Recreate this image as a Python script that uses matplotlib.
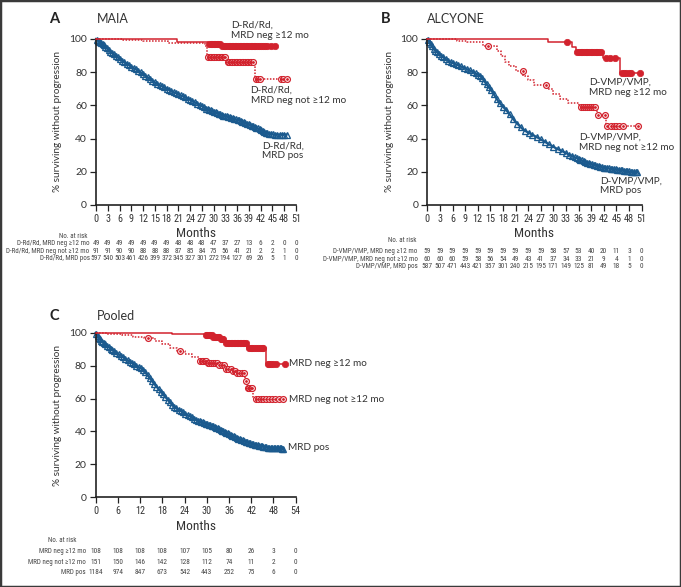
import numpy as np
import matplotlib
matplotlib.use('Agg')
import matplotlib.pyplot as plt
from matplotlib import transforms
from matplotlib.patches import Rectangle
from matplotlib import font_manager as fm
from matplotlib.font_manager import FontProperties

W, H = 681, 587
RED = '#d2222d'
BLUE = '#1b5a8e'
SANS = ['Lato', 'DejaVu Sans']

# ---- pick a condensed font for tick labels / risk table if one is installed ----
_cond_path = None
_prefs = ['LiberationSansNarrow-Regular', 'RobotoCondensed-Regular', 'DejaVuSansCondensed.ttf',
          'OpenSansCondensed', 'NotoSans-Condensed', 'Condensed-Regular', 'Narrow-Regular',
          'SemiCondensed-Regular']
_all = [f.fname for f in fm.fontManager.ttflist]
for p in _prefs:
    hits = [f for f in _all if p.lower() in f.lower()]
    if hits:
        _cond_path = hits[0]
        break
if _cond_path is None:
    hits = [f for f in _all if ('condensed' in f.lower() or 'narrow' in f.lower())
            and 'bold' not in f.lower() and 'italic' not in f.lower()
            and 'oblique' not in f.lower() and 'light' not in f.lower()]
    if hits:
        _cond_path = hits[0]
CONDENSED = _cond_path is not None


def nfp(size):
    if CONDENSED:
        return FontProperties(fname=_cond_path, size=size)
    return FontProperties(family='Roboto', size=size * 0.86)


# ---------------- Panel A: MAIA ----------------
a_neg12_t = [0, 20.6, 28.6, 32.0]
a_neg12_s = [100, 98, 97, 95.5]
a_neg12_end = 45.7
a_neg12_cens = [28.8, 29.2, 29.6, 30.0, 30.4, 30.8, 31.2, 31.6, 32.2, 32.6, 33.0, 33.4,
                33.8, 34.2, 34.6, 35.0, 35.4, 35.8, 36.2, 36.6, 37.0, 37.4, 37.8, 38.2,
                38.6, 39.0, 39.4, 39.8, 40.2, 40.6, 41.0, 41.5, 42.0, 42.5, 43.0, 43.5,
                44.6, 45.7]
a_not12_t = [0, 7, 12, 18.4, 27.8, 28.3, 33.3, 40.5]
a_not12_s = [100, 99.3, 98.5, 97.5, 96, 89, 86, 76]
a_not12_end = 48.6
a_not12_cens = [28.6, 29.0, 29.4, 29.8, 30.2, 30.6, 31.0, 31.4, 31.8, 32.2, 32.6, 33.0,
                33.6, 34.0, 34.4, 34.8, 35.2, 35.6, 36.0, 36.4, 36.8, 37.2, 37.6, 38.0,
                38.4, 38.8, 39.2, 39.6, 40.0, 40.8, 41.3, 41.9, 47.2, 47.8, 48.6]
a_pos_t = [0, 1.9, 3.6, 7.0, 11.2, 15.5, 19.7, 24.0, 28.2, 32.5, 36.7, 41.0, 43.5, 45.5, 48.6]
a_pos_s = [100, 96.4, 92.4, 86.3, 80.2, 73.1, 68.1, 63.5, 58.0, 53.9, 50.9, 46.5, 43.3, 42.4, 42.4]
a_pos_cens = [0.2, 0.5, 0.8, 1.1, 1.4, 1.7, 2.0, 2.4, 2.8, 3.2, 3.6, 4.0, 4.5, 5.0, 5.5,
              6.0, 6.6, 7.2, 7.8, 8.4, 9.0, 9.6, 10.2, 10.8, 11.4, 12.0, 12.6, 13.2, 13.8,
              14.4, 15.0, 15.6, 16.2, 16.8, 17.4, 18.0, 18.6, 19.2, 19.8, 20.4, 21.0, 21.6,
              22.2, 22.8, 23.4, 24.0, 24.6, 25.2, 25.8, 26.4, 27.0, 27.6, 28.1, 28.5, 28.9,
              29.3, 29.7, 30.1, 30.5, 30.9, 31.3, 31.7, 32.1, 32.5, 32.9, 33.3, 33.7, 34.1,
              34.5, 34.9, 35.3, 35.7, 36.1, 36.5, 36.9, 37.3, 37.7, 38.1, 38.5, 38.9, 39.3,
              39.7, 40.1, 40.5, 40.9, 41.3, 41.7, 42.1, 42.5, 42.9, 43.3, 43.7, 44.1, 44.6,
              45.1, 45.6, 46.2, 46.8, 47.4, 48.0, 48.6]
a_risk_times = list(range(0, 52, 3))
a_risk_labels = ['D-Rd/Rd, MRD neg ≥12 mo', 'D-Rd/Rd, MRD neg not ≥12 mo', 'D-Rd/Rd, MRD pos']
a_risk_neg12 = [49, 49, 49, 49, 49, 49, 49, 48, 48, 48, 47, 37, 27, 13, 6, 2, 0, 0]
a_risk_not12 = [91, 91, 90, 90, 88, 88, 88, 87, 85, 84, 75, 56, 41, 21, 2, 2, 1, 0]
a_risk_pos = [597, 540, 503, 461, 426, 399, 372, 345, 327, 301, 272, 194, 127, 69, 26, 5, 1, 0]

# ---------------- Panel B: ALCYONE ----------------
b_neg12_t = [0, 28.8, 34.5, 35.5, 41.8, 45.8]
b_neg12_s = [100, 98.4, 95, 92, 88.3, 79.3]
b_neg12_end = 50.6
b_neg12_cens = [33.3, 35.7, 36.1, 36.5, 36.9, 37.3, 37.7, 38.1, 38.5, 38.9, 39.3, 39.7,
                40.1, 40.5, 40.9, 41.3, 42.6, 43.5, 44.6, 46.4, 46.9, 47.4, 47.9, 48.4, 50.6]
b_not12_t = [0, 7, 9.4, 13.3, 16.5, 17.5, 18.5, 19.5, 21, 22.8, 24, 25.5, 28.5, 30, 31.5,
             33.5, 36.2, 40.5, 42.5]
b_not12_s = [100, 99, 98, 95.5, 93, 90, 86, 84, 81, 78, 75, 72, 69.7, 67, 64, 61.5, 59,
             54.4, 47.3]
b_not12_end = 50.2
b_not12_cens = [14.4, 22.7, 28.2, 36.5, 37.0, 37.5, 38.0, 38.5, 39.0, 39.5, 40.0, 40.6,
                42.2, 42.8, 43.6, 44.4, 45.0, 45.6, 46.6, 50.2]
b_pos_t = [0, 1.5, 3, 5.2, 8, 11, 12.8, 14, 15.5, 17, 19, 21, 23, 26, 30, 34, 38, 42, 46, 49.9]
b_pos_s = [100, 94, 90.5, 86.5, 83.5, 80, 77.5, 73, 68, 62, 56.5, 50, 45, 41, 35, 30, 25.5,
           22.5, 21, 19.6]
b_pos_cens = [0.2, 0.5, 0.8, 1.1, 1.5, 1.9, 2.3, 2.8, 3.3, 3.8, 4.4, 5.0, 5.6, 6.2, 6.8,
              7.4, 8.0, 8.7, 9.4, 10.1, 10.8, 11.5, 12.1, 12.6, 13.1, 13.6, 14.1, 14.6,
              15.2, 15.8, 16.5, 17.2, 18.0, 18.8, 19.6, 20.5, 21.4, 22.3, 23.2, 24.1, 25.0,
              26.0, 27.0, 28.0, 29.0, 30.0, 31.0, 32.0, 33.0, 33.8, 34.5, 35.1, 35.6, 36.0,
              36.4, 36.8, 37.2, 37.6, 38.0, 38.4, 38.8, 39.2, 39.6, 40.0, 40.4, 40.8, 41.2,
              41.6, 42.0, 42.4, 42.8, 43.2, 43.6, 44.0, 44.4, 44.8, 45.2, 45.6, 46.0, 46.4,
              46.8, 47.2, 47.6, 48.0, 48.4, 48.8, 49.2, 49.6, 49.9]
b_risk_times = list(range(0, 52, 3))
b_risk_labels = ['D-VMP/VMP, MRD neg ≥12 mo', 'D-VMP/VMP, MRD neg not ≥12 mo', 'D-VMP/VMP, MRD pos']
b_risk_neg12 = [59, 59, 59, 59, 59, 59, 59, 59, 59, 59, 58, 57, 53, 40, 20, 11, 3, 0]
b_risk_not12 = [60, 60, 60, 59, 58, 56, 54, 49, 43, 41, 37, 34, 33, 21, 9, 4, 1, 0]
b_risk_pos = [587, 507, 471, 443, 421, 357, 301, 240, 215, 195, 171, 149, 125, 81, 49, 18, 5, 0]

# ---------------- Panel C: Pooled ----------------
c_neg12_t = [0, 20.5, 29.5, 31.5, 33.5, 35.0, 40.8, 46.0]
c_neg12_s = [100, 99.3, 98.5, 97.5, 96.0, 93.6, 90.5, 80.8]
c_neg12_end = 51.2
c_neg12_cens = [29.7, 30.1, 30.5, 30.9, 31.3, 31.7, 32.1, 32.5, 32.9, 33.3, 33.7, 34.1,
                34.5, 35.3, 35.7, 36.1, 36.5, 36.9, 37.3, 37.7, 38.1, 38.5, 38.9, 39.3,
                39.7, 40.1, 40.5, 41.3, 41.8, 42.3, 42.8, 43.3, 43.8, 44.3, 44.8, 45.3,
                46.4, 46.9, 47.4, 47.9, 48.6, 51.2]
c_not12_t = [0, 3, 7, 10, 13, 16, 18, 20, 22, 24, 26, 28, 30, 33, 35, 37, 38, 40.4, 40.8, 42.6]
c_not12_s = [100, 99.5, 98.5, 97.5, 96.5, 95, 93, 91, 89, 87, 85, 83, 81.5, 80.5, 78, 76.5,
             75.4, 70.9, 66.5, 60]
c_not12_end = 50.7
c_not12_cens = [14.2, 22.8, 28.2, 28.6, 29.0, 29.4, 29.8, 30.2, 30.6, 31.0, 31.6, 32.2,
                32.8, 33.4, 34.0, 34.6, 35.2, 35.8, 36.4, 37.0, 37.6, 38.2, 38.8, 39.4,
                40.0, 40.6, 41.0, 41.4, 41.8, 42.2, 43.2, 43.8, 44.5, 45.2, 46.0, 46.8,
                47.6, 48.4, 49.4, 50.7]
c_pos_t = [0, 1.2, 3.9, 7.5, 10.2, 12.9, 15.6, 18.3, 21, 24.6, 28.2, 31.8, 35.4, 39, 42.6,
           46.2, 50.7]
c_pos_s = [100, 95.6, 90.5, 85.0, 81.0, 77.4, 69.4, 62.3, 55.2, 50.2, 46.0, 43.2, 39.1, 35.1,
           32.2, 30.3, 29.6]
c_pos_cens = [0.2, 0.5, 0.8, 1.1, 1.4, 1.8, 2.2, 2.6, 3.0, 3.5, 4.0, 4.5, 5.0, 5.6, 6.2,
              6.8, 7.4, 8.0, 8.6, 9.2, 9.8, 10.4, 11.0, 11.6, 12.2, 12.8, 13.4, 14.0, 14.6,
              15.2, 15.8, 16.4, 17.0, 17.6, 18.2, 18.8, 19.4, 20.0, 20.6, 21.2, 21.8, 22.4,
              23.0, 23.6, 24.2, 24.8, 25.4, 26.0, 26.6, 27.2, 27.7, 28.1, 28.5, 28.9, 29.3,
              29.7, 30.1, 30.5, 30.9, 31.3, 31.7, 32.1, 32.5, 32.9, 33.3, 33.7, 34.1, 34.5,
              34.9, 35.3, 35.7, 36.1, 36.5, 36.9, 37.3, 37.7, 38.1, 38.5, 38.9, 39.3, 39.7,
              40.1, 40.5, 40.9, 41.3, 41.7, 42.1, 42.5, 42.9, 43.3, 43.7, 44.1, 44.5, 44.9,
              45.3, 45.7, 46.1, 46.5, 46.9, 47.3, 47.7, 48.1, 48.5, 48.9, 49.3, 49.7, 50.1,
              50.4, 50.7]
c_risk_times = list(range(0, 55, 6))
c_risk_labels = ['MRD neg ≥12 mo', 'MRD neg not ≥12 mo', 'MRD pos']
c_risk_neg12 = [108, 108, 108, 108, 107, 105, 80, 26, 3, 0]
c_risk_not12 = [151, 150, 146, 142, 128, 112, 74, 11, 2, 0]
c_risk_pos = [1184, 974, 847, 673, 542, 443, 252, 75, 6, 0]


def step_at(t, s, x):
    t = np.asarray(t); s = np.asarray(s)
    idx = np.searchsorted(t, x, side='right') - 1
    return s[np.clip(idx, 0, len(s) - 1)]


def draw_step(ax, t, s, end, cens, dotted):
    tt = np.r_[t, end]
    ss = np.r_[s, s[-1]]
    ax.step(tt, ss, where='post', color=RED, lw=1.1,
            ls=(0, (1, 1)) if dotted else '-', clip_on=False, zorder=3)
    cx = np.asarray(cens)
    cy = step_at(t, s, cx)
    if dotted:
        ax.plot(cx, cy, 'o', ms=4.2, mfc='white', mec=RED, mew=0.9, clip_on=False, zorder=4)
        ax.plot(cx, cy, 'o', ms=1.0, mfc=RED, mec=RED, clip_on=False, zorder=5)
    else:
        ax.plot(cx, cy, 'o', ms=4.6, mfc=RED, mec=RED, mew=0.5, clip_on=False, zorder=4)


def draw_line(ax, t, s, cens):
    ax.plot(t, s, color=BLUE, lw=1.6, clip_on=False, zorder=2)
    cx = np.asarray(cens)
    cy = np.interp(cx, t, s)
    ax.plot(cx, cy, '^', ms=4.8, mfc='none', mec=BLUE, mew=0.95, clip_on=False, zorder=2)


def setup(ax, xmax, step):
    ax.set_xlim(0, xmax)
    ax.set_ylim(0, 100)
    for sp in ['top', 'right']:
        ax.spines[sp].set_visible(False)
    for sp in ['left', 'bottom']:
        ax.spines[sp].set_linewidth(1.2)
        ax.spines[sp].set_color('#222222')
    ax.set_xticks(list(range(0, xmax + 1, step)))
    ax.set_yticks(list(range(0, 101, 20)))
    ax.tick_params(direction='out', length=4, width=0.9, color='#222222', pad=2.5)
    for lb in ax.get_xticklabels():
        lb.set_fontproperties(nfp(7.3)); lb.set_color('#333333')
    for lb in ax.get_yticklabels():
        lb.set_family(SANS); lb.set_fontsize(7.5); lb.set_color('#333333')
    ax.set_xlabel('Months', fontproperties=nfp(9.6), color='#333333', labelpad=2.5)
    ax.set_ylabel('% surviving without progression', family=SANS, fontsize=7.2,
                  color='#333333', labelpad=5)


def risk_table(fig, ax, times, labels, rows, label_x, header_x, header_y, row_ys):
    tr = transforms.blended_transform_factory(ax.transData, fig.transFigure)
    fig.text(header_x / W, 1 - header_y / H, 'No. at risk', ha='right', va='center',
             fontproperties=nfp(5.0), color='#444444')
    for lab, vals, yy in zip(labels, rows, row_ys):
        fig.text(label_x / W, 1 - yy / H, lab, ha='right', va='center',
                 fontproperties=nfp(5.0), color='#444444')
        for t, v in zip(times, vals):
            ax.text(t, 1 - yy / H, str(v), transform=tr, ha='center', va='center',
                    fontproperties=nfp(5.3), color='#444444')


fig = plt.figure(figsize=(W / 100, H / 100), dpi=100)

axA = fig.add_axes([96 / W, 1 - 205 / H, 200 / W, 166 / H])
axB = fig.add_axes([427.3 / W, 1 - 205 / H, 214.3 / W, 166 / H])
axC = fig.add_axes([95.7 / W, 1 - 497.3 / H, 200 / W, 164.6 / H])

setup(axA, 51, 3)
setup(axB, 51, 3)
setup(axC, 54, 6)

draw_line(axA, a_pos_t, a_pos_s, a_pos_cens)
draw_step(axA, a_not12_t, a_not12_s, a_not12_end, a_not12_cens, True)
draw_step(axA, a_neg12_t, a_neg12_s, a_neg12_end, a_neg12_cens, False)

draw_line(axB, b_pos_t, b_pos_s, b_pos_cens)
draw_step(axB, b_not12_t, b_not12_s, b_not12_end, b_not12_cens, True)
draw_step(axB, b_neg12_t, b_neg12_s, b_neg12_end, b_neg12_cens, False)

draw_line(axC, c_pos_t, c_pos_s, c_pos_cens)
draw_step(axC, c_not12_t, c_not12_s, c_not12_end, c_not12_cens, True)
draw_step(axC, c_neg12_t, c_neg12_s, c_neg12_end, c_neg12_cens, False)

# panel letters and titles
for letter, lx, title, tx, ty in [('A', 49, 'MAIA', 97, 19), ('B', 381, 'ALCYONE', 427, 19),
                                  ('C', 49, 'Pooled', 97, 316)]:
    fig.text(lx / W, 1 - ty / H, letter, ha='left', va='center', family=SANS,
             fontweight='bold', fontsize=10.5, color='#222222')
    fig.text(tx / W, 1 - ty / H, title, ha='left', va='center', family=SANS,
             fontsize=9, color='#333333')

# curve labels
curve_labels = [
    (231, 21, 'D-Rd/Rd,\nMRD neg ≥12 mo', 'top'),
    (250.5, 86, 'D-Rd/Rd,\nMRD neg not ≥12 mo', 'top'),
    (262, 141.5, 'D-Rd/Rd,\nMRD pos', 'top'),
    (589, 78, 'D-VMP/VMP,\nMRD neg ≥12 mo', 'top'),
    (579, 133, 'D-VMP/VMP,\nMRD neg not ≥12 mo', 'top'),
    (600.5, 176.5, 'D-VMP/VMP,\nMRD pos', 'top'),
    (289, 364, 'MRD neg ≥12 mo', 'center'),
    (289, 399.5, 'MRD neg not ≥12 mo', 'center'),
    (288, 448, 'MRD pos', 'center'),
]
for x, y, s, va in curve_labels:
    fig.text(x / W, 1 - y / H, s, ha='left', va=va, family=SANS, fontsize=7.2,
             color='#333333', linespacing=1.1)

risk_table(fig, axA, a_risk_times, a_risk_labels, [a_risk_neg12, a_risk_not12, a_risk_pos],
           89.5, 87.5, 237, [243.5, 251.2, 259])
risk_table(fig, axB, b_risk_times, b_risk_labels, [b_risk_neg12, b_risk_not12, b_risk_pos],
           417.5, 416, 240, [251.7, 259.3, 266.9])
risk_table(fig, axC, c_risk_times, c_risk_labels, [c_risk_neg12, c_risk_not12, c_risk_pos],
           86, 77, 541, [551.7, 562, 572.3])

fig.patches.append(Rectangle((0, 0), 1, 1, transform=fig.transFigure, fill=False,
                             lw=2.5, ec='#3a3a3a'))

fig.savefig('out.png', dpi=100)
